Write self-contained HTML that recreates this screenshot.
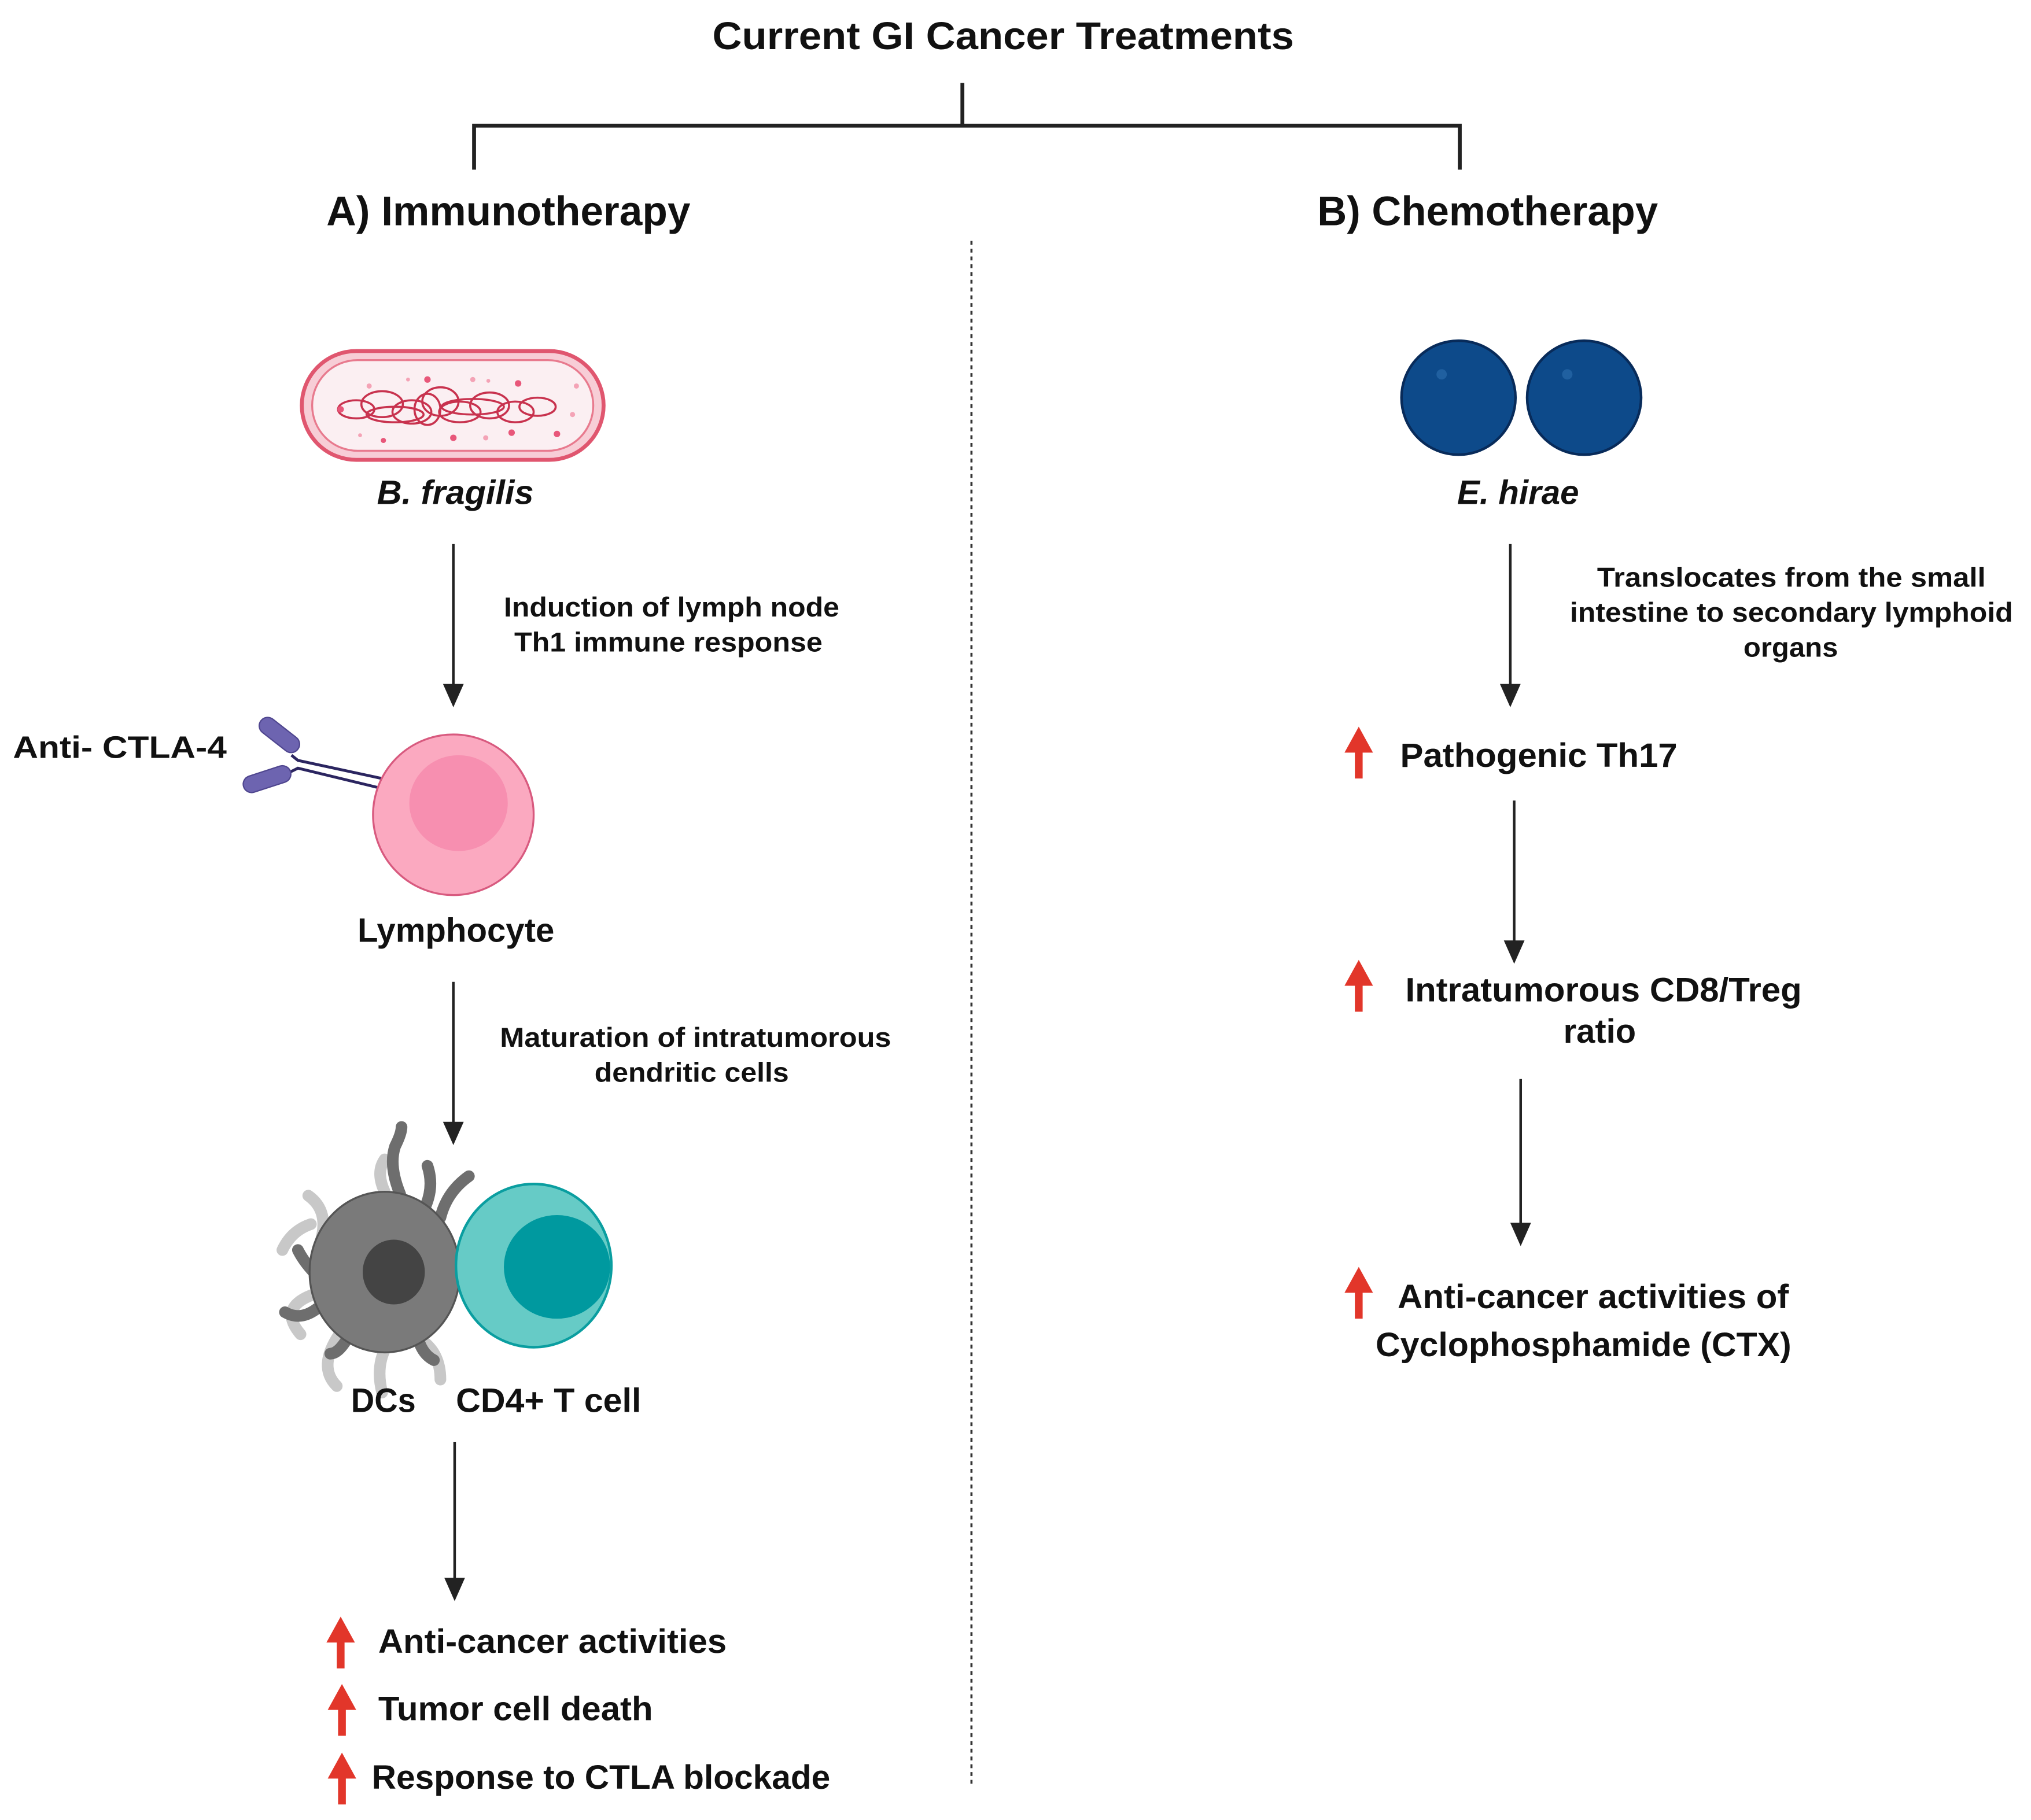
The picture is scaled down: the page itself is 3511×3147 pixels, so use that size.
<!DOCTYPE html>
<html><head><meta charset="utf-8"><style>
html,body{margin:0;padding:0;background:#fff;}
svg{display:block;}
text{font-family:"Liberation Sans",Arial,sans-serif;font-weight:bold;fill:#111;}
</style></head><body>
<svg width="3511" height="3147" viewBox="0 0 1568 1405" preserveAspectRatio="none" xmlns="http://www.w3.org/2000/svg">
<defs>
<g id="red"><polygon points="0,0 -11,20 -3,20 -3,40 3,40 3,20 11,20" fill="#e2362a"/></g>
</defs>
<rect width="1568" height="1405" fill="#fff"/>
<!-- Title -->
<text x="550" y="38" font-size="30" textLength="449" lengthAdjust="spacingAndGlyphs">Current GI Cancer Treatments</text>
<g stroke="#222" stroke-width="3" fill="none">
<path d="M743 64 V97 M366 131 V97 H1127 V131"/>
</g>
<text x="252" y="174" font-size="32" textLength="281" lengthAdjust="spacingAndGlyphs">A) Immunotherapy</text>
<text x="1017" y="174" font-size="32" textLength="263" lengthAdjust="spacingAndGlyphs">B) Chemotherapy</text>
<line x1="750" y1="186" x2="750" y2="1380" stroke="#333" stroke-width="1.6" stroke-dasharray="3,3"/>

<!-- Bacterium -->
<rect x="233" y="271" width="233" height="84" rx="42" fill="#f7cdd6" stroke="#e0566f" stroke-width="3"/>
<rect x="241" y="278" width="217" height="70" rx="35" fill="#fbeff2" stroke="#e87a8e" stroke-width="1.5"/>
<g fill="none" stroke="#c8324e" stroke-width="1.6">
<ellipse cx="275" cy="316" rx="14" ry="7"/><ellipse cx="295" cy="312" rx="16" ry="10"/><ellipse cx="318" cy="318" rx="15" ry="9"/>
<ellipse cx="340" cy="310" rx="14" ry="11"/><ellipse cx="355" cy="318" rx="16" ry="8"/><ellipse cx="378" cy="313" rx="15" ry="10"/>
<ellipse cx="398" cy="318" rx="14" ry="8"/><ellipse cx="415" cy="314" rx="14" ry="7"/><ellipse cx="305" cy="320" rx="22" ry="6"/>
<ellipse cx="365" cy="314" rx="24" ry="6"/><ellipse cx="330" cy="316" rx="10" ry="12"/>
</g>
<g fill="#e8577a"><circle cx="263" cy="316" r="2.5"/><circle cx="296" cy="340" r="2"/><circle cx="330" cy="293" r="2.5"/><circle cx="350" cy="338" r="2.5"/><circle cx="400" cy="296" r="2.5"/><circle cx="430" cy="335" r="2.5"/><circle cx="395" cy="334" r="2.5"/></g>
<g fill="#f4a3b6"><circle cx="285" cy="298" r="2"/><circle cx="365" cy="293" r="2"/><circle cx="377" cy="294" r="1.5"/><circle cx="442" cy="320" r="2"/><circle cx="278" cy="336" r="1.5"/><circle cx="445" cy="298" r="2"/><circle cx="375" cy="338" r="2"/><circle cx="315" cy="293" r="1.5"/></g>
<text x="291" y="389" font-size="26" font-style="italic" textLength="121" lengthAdjust="spacingAndGlyphs">B. fragilis</text>

<!-- arrows -->
<g stroke="#222" stroke-width="2">
<line x1="350" y1="420" x2="350" y2="530"/>
<line x1="350" y1="758" x2="350" y2="868"/>
<line x1="351" y1="1113" x2="351" y2="1220"/>
<line x1="1166" y1="420" x2="1166" y2="530"/>
<line x1="1169" y1="618" x2="1169" y2="728"/>
<line x1="1174" y1="833" x2="1174" y2="946"/>
</g>
<g fill="#222">
<polygon points="342,528 358,528 350,546"/>
<polygon points="342,866 358,866 350,884"/>
<polygon points="343,1218 359,1218 351,1236"/>
<polygon points="1158,528 1174,528 1166,546"/>
<polygon points="1161,726 1177,726 1169,744"/>
<polygon points="1166,944 1182,944 1174,962"/>
</g>
<text x="389" y="476" font-size="21" textLength="259" lengthAdjust="spacingAndGlyphs">Induction of lymph node</text>
<text x="397" y="503" font-size="21" textLength="238" lengthAdjust="spacingAndGlyphs">Th1 immune response</text>

<!-- antibody + lymphocyte -->
<text x="10" y="585" font-size="24" textLength="165" lengthAdjust="spacingAndGlyphs">Anti- CTLA-4</text>
<g stroke="#2b2560" stroke-width="2.2" fill="none">
<path d="M225 583 L230 587 L295 601"/><path d="M222 597 L230 593 L292 608"/>
</g>
<g fill="#6d64b0" stroke="#4f468f" stroke-width="1">
<rect x="198" y="561" width="36" height="13" rx="6.5" transform="rotate(38 216 567)"/>
<rect x="187" y="595" width="38" height="13" rx="6.5" transform="rotate(-18 206 601)"/>
</g>
<circle cx="350" cy="629" r="62" fill="#fba9c0" stroke="#d85a7f" stroke-width="1.5"/>
<ellipse cx="354" cy="620" rx="38" ry="37" fill="#f78fb0"/>
<text x="276" y="727" font-size="26" textLength="152" lengthAdjust="spacingAndGlyphs">Lymphocyte</text>
<text x="386" y="808" font-size="21" textLength="302" lengthAdjust="spacingAndGlyphs">Maturation of intratumorous</text>
<text x="459" y="835" font-size="21" textLength="150" lengthAdjust="spacingAndGlyphs">dendritic cells</text>

<!-- DC -->
<g stroke="#c8c8c8" stroke-width="9" stroke-linecap="round" fill="none">
<path d="M247 960 Q255 935 238 923"/><path d="M240 1000 Q215 1010 232 1030"/><path d="M262 1030 Q245 1055 260 1070"/>
<path d="M298 1040 Q290 1055 295 1075"/><path d="M326 1035 Q340 1045 340 1065"/><path d="M297 920 Q290 905 297 895"/><path d="M240 945 Q225 950 218 965"/>
</g>
<g stroke="#6e6e6e" stroke-width="9" stroke-linecap="round" fill="none">
<path d="M309 922 Q300 900 305 885 Q310 875 310 870"/><path d="M329 930 Q335 915 330 900"/><path d="M340 940 Q345 920 362 908"/>
<path d="M245 985 Q235 975 230 965"/><path d="M245 1010 Q232 1020 220 1013"/><path d="M270 1030 Q262 1045 255 1045"/>
<path d="M322 1030 Q325 1045 335 1050"/>
</g>
<ellipse cx="297" cy="982" rx="58" ry="62" fill="#7a7a7a" stroke="#555" stroke-width="1.5"/>
<ellipse cx="304" cy="982" rx="24" ry="25" fill="#444"/>
<!-- CD4 -->
<ellipse cx="412" cy="977" rx="60" ry="63" fill="#66cbc6" stroke="#0a9ea0" stroke-width="2"/>
<ellipse cx="430" cy="978" rx="41" ry="40" fill="#00999f"/>
<text x="271" y="1090" font-size="26" textLength="50" lengthAdjust="spacingAndGlyphs">DCs</text>
<text x="352" y="1090" font-size="26" textLength="143" lengthAdjust="spacingAndGlyphs">CD4+ T cell</text>

<!-- left results -->
<use href="#red" x="263" y="1248"/>
<use href="#red" x="264" y="1300"/>
<use href="#red" x="264" y="1353"/>
<text x="292" y="1276" font-size="26" textLength="269" lengthAdjust="spacingAndGlyphs">Anti-cancer activities</text>
<text x="292" y="1328" font-size="26" textLength="212" lengthAdjust="spacingAndGlyphs">Tumor cell death</text>
<text x="287" y="1381" font-size="26" textLength="354" lengthAdjust="spacingAndGlyphs">Response to CTLA blockade</text>

<!-- E. hirae -->
<g>
<circle cx="1126" cy="307" r="44" fill="#0d4a8a" stroke="#082b5a" stroke-width="2"/>
<circle cx="1113" cy="289" r="4" fill="#2060a0"/>
<circle cx="1223" cy="307" r="44" fill="#0d4a8a" stroke="#082b5a" stroke-width="2"/>
<circle cx="1210" cy="289" r="4" fill="#2060a0"/>
</g>
<text x="1125" y="389" font-size="26" font-style="italic" textLength="94" lengthAdjust="spacingAndGlyphs">E. hirae</text>
<text x="1233" y="453" font-size="21" textLength="300" lengthAdjust="spacingAndGlyphs">Translocates from the small</text>
<text x="1212" y="480" font-size="21" textLength="342" lengthAdjust="spacingAndGlyphs">intestine to secondary lymphoid</text>
<text x="1346" y="507" font-size="21" textLength="73" lengthAdjust="spacingAndGlyphs">organs</text>

<use href="#red" x="1049" y="561"/>
<text x="1081" y="592" font-size="26" textLength="214" lengthAdjust="spacingAndGlyphs">Pathogenic Th17</text>
<use href="#red" x="1049" y="741"/>
<text x="1085" y="773" font-size="26" textLength="306" lengthAdjust="spacingAndGlyphs">Intratumorous CD8/Treg</text>
<text x="1207" y="805" font-size="26" textLength="56" lengthAdjust="spacingAndGlyphs">ratio</text>
<use href="#red" x="1049" y="978"/>
<text x="1079" y="1010" font-size="26" textLength="302" lengthAdjust="spacingAndGlyphs">Anti-cancer activities of</text>
<text x="1062" y="1047" font-size="26" textLength="321" lengthAdjust="spacingAndGlyphs">Cyclophosphamide (CTX)</text>
</svg>
</body></html>
